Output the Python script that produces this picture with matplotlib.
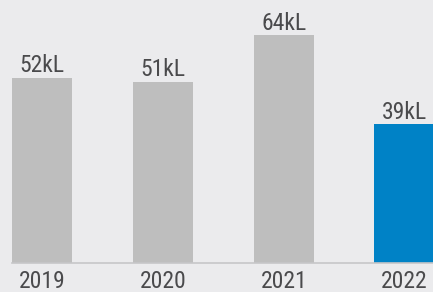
import matplotlib
matplotlib.use("Agg")
import matplotlib.pyplot as plt
from matplotlib import font_manager

years = ["2019", "2020", "2021", "2022"]
values = [52, 51, 64, 39]
value_labels = ["52kL", "51kL", "64kL", "39kL"]
highlight = "2022"

names = {f.name for f in font_manager.fontManager.ttflist}
family = "Roboto"
fsize = 16
for cand, sz in [("Roboto Condensed", 17), ("Liberation Sans Narrow", 17),
                 ("Open Sans Condensed", 17)]:
    if cand in names:
        family, fsize = cand, sz
        break
plt.rcParams["font.family"] = [family, "DejaVu Sans"]

bg = "#ebebed"
grey = "#bebebe"
blue = "#0082c6"
text_c = "#4a4a4c"

fig = plt.figure(figsize=(4.33, 2.92), dpi=100, facecolor=bg)
ax = fig.add_axes([12 / 433, 29.3 / 292, 421 / 433, 262.7 / 292])
ax.set_facecolor(bg)

x = list(range(len(years)))
colors = [blue if y == highlight else grey for y in years]
bars = ax.bar(x, values, width=0.5, color=colors, linewidth=0)

ax.set_xlim(-0.25, 3.235)
ax.set_ylim(0, 73.96)

for b, lab in zip(bars, value_labels):
    ax.annotate(lab, (b.get_x() + b.get_width() / 2, b.get_height()),
                xytext=(0, 4), textcoords="offset points",
                ha="center", va="baseline", fontsize=fsize, color=text_c)

ax.set_xticks(x)
ax.set_xticklabels(years, fontsize=fsize, color=text_c)
ax.tick_params(axis="x", length=0, pad=5.5)
ax.set_yticks([])
for s in ["top", "left", "right"]:
    ax.spines[s].set_visible(False)
ax.spines["bottom"].set_color("#c6c6c8")
ax.spines["bottom"].set_linewidth(1.2)

fig.savefig("out.png", dpi=100, facecolor=bg)
